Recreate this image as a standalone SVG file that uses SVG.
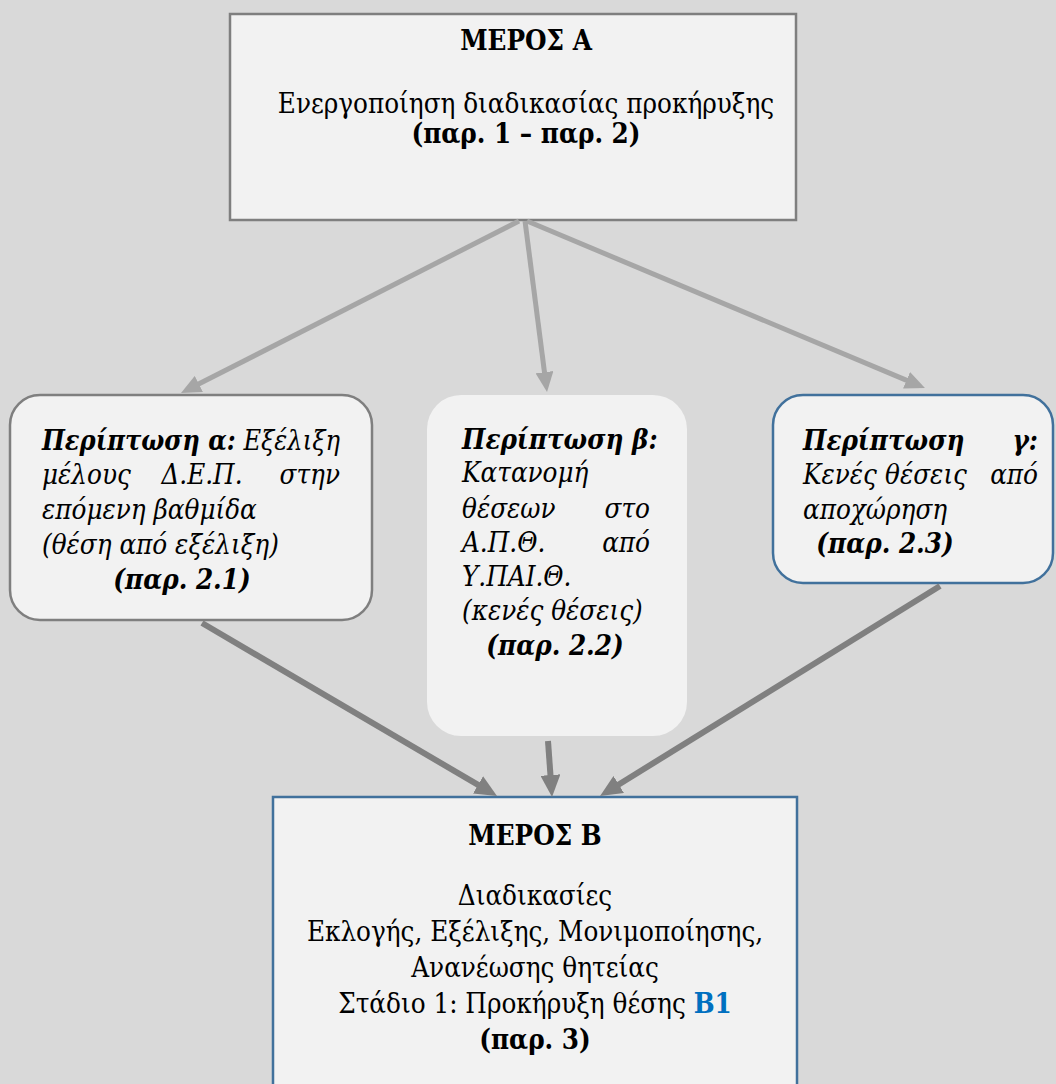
<svg xmlns="http://www.w3.org/2000/svg" width="1056" height="1084" viewBox="0 0 1056 1084">
  <style>
    text { font-family: "DejaVu Serif Condensed", "DejaVu Serif", "Liberation Serif", serif; font-stretch: condensed; font-size: 27.5px; fill: #000; }
    .b { font-weight: bold; }
    .i { font-style: italic; }
    .bi { font-weight: bold; font-style: italic; }
    .mid { text-anchor: middle; }
    .end { text-anchor: end; }
    .box { fill: #f2f2f2; }
    .grey { stroke: #7f7f7f; stroke-width: 2.5; }
    .blue { stroke: #41719c; stroke-width: 2.5; }
    .up { stroke: #a6a6a6; stroke-width: 5; fill: none; }
    .down { stroke: #808080; stroke-width: 6; fill: none; }
  </style>
  <defs>
    <marker id="headLight" markerUnits="userSpaceOnUse" viewBox="0 0 20 18" refX="8" refY="9" markerWidth="20" markerHeight="18" orient="auto">
      <path d="M0,0 L20,9 L0,18 z" fill="#a6a6a6"/>
    </marker>
    <marker id="headDark" markerUnits="userSpaceOnUse" viewBox="0 0 22 20" refX="9" refY="10" markerWidth="22" markerHeight="20" orient="auto">
      <path d="M0,0 L22,10 L0,20 z" fill="#808080"/>
    </marker>
  </defs>

  <!-- page background -->
  <rect x="0" y="0" width="1056" height="1084" fill="#d9d9d9"/>

  <!-- Part A -->
  <g id="partA">
    <rect class="box grey" x="230" y="14" width="566" height="206"/>
    <text class="b mid" x="526" y="50">ΜΕΡΟΣ Α</text>
    <text class="mid" x="526" y="113">Ενεργοποίηση διαδικασίας προκήρυξης</text>
    <text class="b mid" x="526" y="143">(παρ. 1 – παρ. 2)</text>
  </g>

  <!-- Case a -->
  <g id="caseA">
    <rect class="box grey" x="10" y="395" width="362" height="225" rx="30" ry="30"/>
    <text x="42" y="450" textLength="298" lengthAdjust="spacingAndGlyphs"><tspan class="bi">Περίπτωση α:</tspan><tspan class="i"> Εξέλιξη</tspan></text>
    <text class="i" x="42" y="484">μέλους</text>
    <text class="i mid" x="202" y="484">Δ.Ε.Π.</text>
    <text class="i end" x="340" y="484">στην</text>
    <text class="i" x="42" y="519">επόμενη βαθμίδα</text>
    <text class="i" x="42" y="554">(θέση από εξέλιξη)</text>
    <text class="bi mid" x="182" y="589">(παρ. 2.1)</text>
  </g>

  <!-- Case b -->
  <g id="caseB">
    <rect class="box" x="427" y="395" width="260" height="341" rx="34" ry="34"/>
    <text class="bi" x="462" y="449">Περίπτωση β:</text>
    <text class="i" x="462" y="482">Κατανομή</text>
    <text class="i" x="462" y="518">θέσεων</text>
    <text class="i end" x="650" y="518">στο</text>
    <text class="i" x="462" y="552">Α.Π.Θ.</text>
    <text class="i end" x="650" y="552">από</text>
    <text class="i" x="462" y="586">Υ.ΠΑΙ.Θ.</text>
    <text class="i" x="462" y="620">(κενές θέσεις)</text>
    <text class="bi mid" x="555" y="655">(παρ. 2.2)</text>
  </g>

  <!-- Case c -->
  <g id="caseC">
    <rect class="box blue" x="773" y="395" width="280" height="188" rx="30" ry="30"/>
    <text class="bi" x="803" y="450">Περίπτωση</text>
    <text class="bi end" x="1038" y="450">γ:</text>
    <text class="i" x="803" y="484">Κενές</text>
    <text class="i mid" x="926" y="484">θέσεις</text>
    <text class="i end" x="1038" y="484">από</text>
    <text class="i" x="803" y="519">αποχώρηση</text>
    <text class="bi mid" x="885" y="553">(παρ. 2.3)</text>
  </g>

  <!-- Part B -->
  <g id="partB">
    <rect class="box blue" x="273" y="797" width="524" height="300"/>
    <text class="b mid" x="535" y="845">ΜΕΡΟΣ Β</text>
    <text class="mid" x="535" y="905">Διαδικασίες</text>
    <text class="mid" x="535" y="941">Εκλογής, Εξέλιξης, Μονιμοποίησης,</text>
    <text class="mid" x="535" y="977">Ανανέωσης θητείας</text>
    <text class="mid" x="535" y="1013">Στάδιο 1: Προκήρυξη θέσης <tspan class="b" fill="#0070c0">Β1</tspan></text>
    <text class="b mid" x="535" y="1049">(παρ. 3)</text>
  </g>

  <!-- connectors -->
  <g id="connectors">
    <line class="up" x1="519" y1="221" x2="191.7" y2="387.6" marker-end="url(#headLight)"/>
    <line class="up" x1="525" y1="221" x2="545.5" y2="380.1" marker-end="url(#headLight)"/>
    <line class="up" x1="527" y1="221" x2="913.9" y2="383.4" marker-end="url(#headLight)"/>
    <line class="down" x1="202" y1="623" x2="485.8" y2="789.4" marker-end="url(#headDark)"/>
    <line class="down" x1="548" y1="741" x2="551.1" y2="784" marker-end="url(#headDark)"/>
    <line class="down" x1="940" y1="586" x2="611.1" y2="789.2" marker-end="url(#headDark)"/>
  </g>
</svg>
